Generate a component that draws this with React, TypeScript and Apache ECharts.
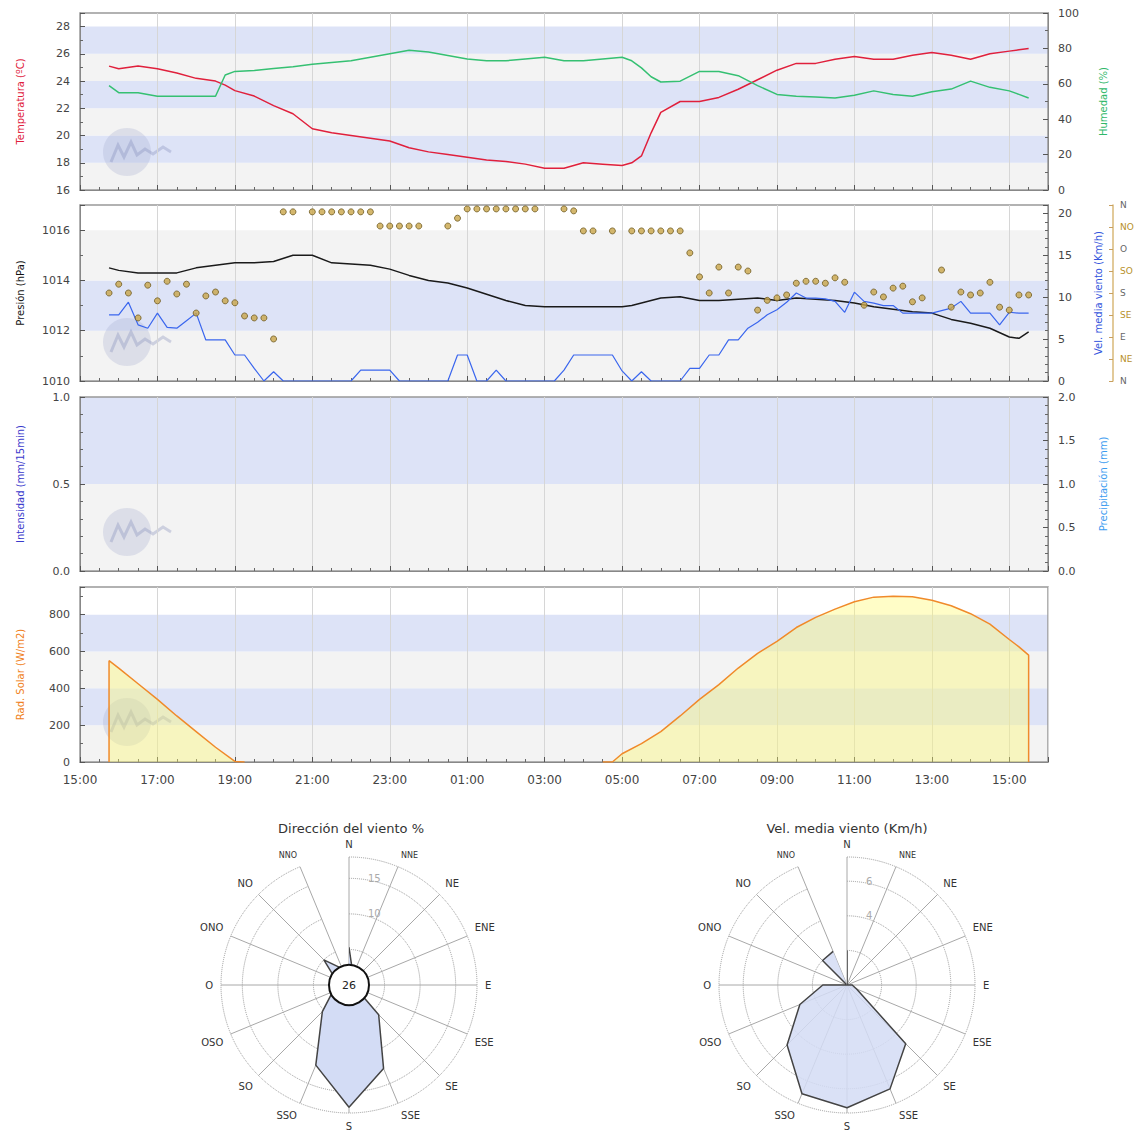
import React, { useEffect, useRef } from "react";
import * as echarts from "echarts";

// ---------- DATA ----------
// time stamps (HH:MM) from 15:45 on day 1 to 15:30 on day 2
const lineTimes = [
  "15:45", "16:00", "16:30", "17:00", "17:30", "18:00", "18:30", "18:45", "19:00", "19:30",
  "20:00", "20:30", "21:00", "21:30", "22:00", "22:30", "23:00", "23:30", "00:00", "00:30",
  "01:00", "01:30", "02:00", "02:30", "03:00", "03:30", "04:00", "04:30", "05:00", "05:15",
  "05:30", "05:45", "06:00", "06:30", "07:00", "07:30", "08:00", "08:30", "09:00", "09:30",
  "10:00", "10:30", "11:00", "11:30", "12:00", "12:30", "13:00", "13:30", "14:00", "14:30",
  "15:00", "15:15", "15:30",
];
const temperature = [
  25.1, 24.9, 25.1, 24.9, 24.6, 24.2, 24.0, 23.7, 23.3, 22.9,
  22.2, 21.6, 20.5, 20.2, 20.0, 19.8, 19.6, 19.1, 18.8, 18.6,
  18.4, 18.2, 18.1, 17.9, 17.6, 17.6, 18.0, 17.9, 17.8, 18.0,
  18.5, 20.2, 21.7, 22.5, 22.5, 22.8, 23.4, 24.1, 24.8, 25.3,
  25.3, 25.6, 25.8, 25.6, 25.6, 25.9, 26.1, 25.9, 25.6, 26.0,
  26.2, 26.3, 26.4,
];
const humidity = [
  59, 55, 55, 53, 53, 53, 53, 65, 67, 67.5,
  68.6, 69.7, 71, 72, 73, 75, 77, 79, 78, 76,
  74, 73, 73, 74, 75, 73, 73, 74, 75, 73,
  69, 64, 61, 61.5, 67, 67, 64.6, 59, 54, 53,
  52.5, 52, 53.5, 56, 54, 53, 55.5, 57, 61.5, 58,
  56, 54, 52,
];
const pressure = [
  1014.5, 1014.4, 1014.3, 1014.3, 1014.3, 1014.5, 1014.6, 1014.65, 1014.7, 1014.7,
  1014.75, 1015.0, 1015.0, 1014.7, 1014.65, 1014.6, 1014.45, 1014.2, 1014.0, 1013.9,
  1013.7, 1013.45, 1013.2, 1013.0, 1012.95, 1012.95, 1012.95, 1012.95, 1012.95, 1013.0,
  1013.1, 1013.2, 1013.3, 1013.35, 1013.2, 1013.2, 1013.25, 1013.3, 1013.2, 1013.3,
  1013.25, 1013.2, 1013.1, 1012.95, 1012.85, 1012.75, 1012.7, 1012.45, 1012.3, 1012.1,
  1011.75, 1011.7, 1011.95,
];

// wind records every 15 minutes starting 15:45
const windStartMinutes = 45;
const windStepMinutes = 15;
const windSpeed = [
  7.9, 7.9, 9.4, 6.7, 6.3, 8.1, 6.4, 6.3, 7.2, 8.1,
  4.9, 4.9, 4.9, 3.1, 3.1, 1.5, 0, 1.1, 0, 0,
  0, 0, 0, 0, 0, 0, 1.3, 1.3, 1.3, 1.3,
  0, 0, 0, 0, 0, 0, 3.1, 3.1, 0, 0,
  1.3, 0, 0, 0, 0, 0, 0, 1.3, 3.1, 3.1,
  3.1, 3.1, 3.1, 1.2, 0, 1.1, 0, 0, 0, 0,
  1.5, 1.5, 3.1, 3.1, 4.9, 4.9, 6.3, 7.0, 7.9, 8.5,
  9.4, 10.5, 9.9, 9.9, 9.8, 9.5, 8.2, 10.6, 9.5, 9.3,
  9.0, 9.0, 8.1, 8.1, 8.1, 8.1, 8.4, 8.7, 9.5, 8.1,
  8.1, 8.1, 6.7, 8.2, 8.1, 8.1,
];
const windDir = [
  180, 198, 180, 129, 196, 164, 204, 178, 198, 139,
  174, 182, 164, 160, 133, 129, 129, 86, 346, 346,
  null, 346, 346, 346, 346, 346, 346, 346, 317, 317,
  317, 317, 317, null, null, 317, 333, 352, 352, 352,
  352, 352, 352, 352, 352, null, null, 352, 348, 307,
  307, null, 307, null, 307, 307, 307, 307, 307, 307,
  262, 213, 180, 233, 180, 233, 225, 145, 165, 170,
  176, 200, 204, 204, 200, 211, 202, null, 155, 182,
  172, 190, 194, 162, 170, null, 227, 151, 182, 176,
  180, 202, 151, 145, 176, 176,
];

const radTimes = [
  "15:45", "15:45", "16:00", "16:30", "17:00", "17:30", "18:00", "18:30", "19:00", "19:15",
  "19:30", "04:30", "04:45", "05:00", "05:30", "06:00", "06:30", "07:00", "07:30", "08:00",
  "08:30", "09:00", "09:30", "10:00", "10:30", "11:00", "11:30", "12:00", "12:30", "13:00",
  "13:30", "14:00", "14:30", "15:00", "15:15", "15:30", "15:30",
];
const radiation = [
  0, 550, 510, 425, 340, 250, 165, 80, 3, 0,
  null, 0, 0, 45, 100, 165, 250, 340, 420, 510,
  590, 655, 730, 785, 830, 870, 895, 900, 897, 878,
  848, 805, 748, 665, 625, 580, 0,
];

const roseDirs = ["N", "NNE", "NE", "ENE", "E", "ESE", "SE", "SSE", "S", "SSO", "SO", "OSO", "O", "ONO", "NO", "NNO"];
const dirPercent = [5.3, 1.5, 1.0, 0.5, 0.5, 1.0, 5.9, 12.7, 17.2, 12.2, 5.3, 2.5, 1.5, 2.0, 5.0, 2.5];
const calmPercent = 26;
const roseSpeed = [2.0, 0, 0, 0, 0.3, 0.6, 4.8, 6.5, 7.1, 6.8, 4.9, 2.95, 1.4, 0, 2.0, 2.1];

const dirAxisLabels = ["N", "NE", "E", "SE", "S", "SO", "O", "NO", "N"];

// ---------- HELPERS ----------
const toMinutes = (times: string[]) => {
  let prev = -Infinity;
  return times.map((t) => {
    const [h, m] = t.split(":").map(Number);
    let v = h * 60 + m - 900;
    if (v < 0) v += 1440;
    while (v < prev) v += 1440;
    prev = v;
    return v;
  });
};
const pair = (xs: number[], ys: (number | null)[]) => xs.map((x, i) => [x, ys[i] === null ? "-" : ys[i]]);
const pad = (n: number) => (n < 10 ? "0" + n : "" + n);
const fmtTime = (v: number) => {
  const m = (900 + v) % 1440;
  return pad(Math.floor(m / 60)) + ":" + pad(m % 60);
};

const LIGHT = "#f3f3f3";
const BLUE = "#dde3f7";
const FONT = "DejaVu Sans";

const GRIDS = [
  { top: 13, height: 177 },
  { top: 205, height: 176 },
  { top: 397, height: 174 },
  { top: 587, height: 175 },
];
const X_MIN = 0;
const X_MAX = 1500;

const bands: number[][][] = [
  [[16, 18], [18, 20], [20, 22], [22, 24], [24, 26], [26, 28]],
  [[1010, 1012], [1012, 1014], [1014, 1016]],
  [[0, 0.5], [0.5, 1.0]],
  [[0, 200], [200, 400], [400, 600], [600, 800]],
];
const leftAxisIndex = [0, 2, 5, 7];

export default function App() {
  const ref = useRef<HTMLDivElement>(null);
  useEffect(() => {
    document.body.style.margin = "0";
    const chart = echarts.init(ref.current!, null, { renderer: "svg" });

    const lineX = toMinutes(lineTimes);
    const windX = windSpeed.map((_, i) => windStartMinutes + windStepMinutes * i);
    const radX = toMinutes(radTimes);

    const tick = { inside: true, length: 5, lineStyle: { color: "#555" } };
    const minor = (n: number) => ({ show: true, splitNumber: n, length: 3, lineStyle: { color: "#666" } });
    const axLine = { show: true, lineStyle: { color: "#888" } };
    const plain = (v: number) => String(v);
    const lab = { color: "#444", fontSize: 11, fontFamily: FONT, margin: 10, formatter: plain };
    const nameStyle = (c: string) => ({ color: c, fontSize: 10, fontFamily: FONT });

    const yAxis: any[] = [
      {
        gridIndex: 0, type: "value", position: "left", min: 16, max: 29, interval: 2,
        axisLine: axLine, axisTick: tick, minorTick: minor(2), splitLine: { show: false },
        axisLabel: { ...lab, showMaxLabel: false },
        name: "Temperatura (ºC)", nameLocation: "middle", nameRotate: 90, nameGap: 55, nameTextStyle: nameStyle("#e0203c"),
      },
      {
        gridIndex: 0, type: "value", position: "right", min: 0, max: 100, interval: 20,
        axisLine: axLine, axisTick: tick, minorTick: minor(2), splitLine: { show: false },
        axisLabel: lab,
        name: "Humedad (%)", nameLocation: "middle", nameRotate: 90, nameGap: 50, nameTextStyle: nameStyle("#2fb86a"),
      },
      {
        gridIndex: 1, type: "value", position: "left", min: 1010, max: 1017, interval: 2,
        axisLine: axLine, axisTick: tick, minorTick: minor(2), splitLine: { show: false },
        axisLabel: { ...lab, showMaxLabel: false },
        name: "Presión (hPa)", nameLocation: "middle", nameRotate: 90, nameGap: 55, nameTextStyle: nameStyle("#111"),
      },
      {
        gridIndex: 1, type: "value", position: "right", min: 0, max: 21, interval: 5,
        axisLine: axLine, axisTick: tick, minorTick: minor(5), splitLine: { show: false },
        axisLabel: { ...lab, showMaxLabel: false },
        name: "Vel. media viento (Km/h)", nameLocation: "middle", nameRotate: 90, nameGap: 45, nameTextStyle: nameStyle("#3355dd"),
      },
      {
        gridIndex: 1, type: "value", position: "right", offset: 65, min: 0, max: 360, interval: 45,
        axisLine: { show: true, lineStyle: { color: "#d8b878", width: 1.5 } },
        axisTick: { inside: true, length: 4, lineStyle: { color: "#c8a060" } },
        splitLine: { show: false },
        axisLabel: {
          margin: 7,
          formatter: (v: number) => {
            const i = Math.round(v / 45);
            return i % 2 === 0 ? "{c|" + dirAxisLabels[i] + "}" : "{i|" + dirAxisLabels[i] + "}";
          },
          rich: {
            c: { color: "#666", fontSize: 9, fontFamily: FONT },
            i: { color: "#b8902a", fontSize: 9, fontFamily: FONT },
          },
        },
      },
      {
        gridIndex: 2, type: "value", position: "left", min: 0, max: 1, interval: 0.5,
        axisLine: axLine, axisTick: tick, minorTick: minor(5), splitLine: { show: false },
        axisLabel: { ...lab, formatter: (v: number) => v.toFixed(1) },
        name: "Intensidad (mm/15min)", nameLocation: "middle", nameRotate: 90, nameGap: 55, nameTextStyle: nameStyle("#3a3acc"),
      },
      {
        gridIndex: 2, type: "value", position: "right", min: 0, max: 2, interval: 0.5,
        axisLine: axLine, axisTick: tick, minorTick: minor(5), splitLine: { show: false },
        axisLabel: { ...lab, formatter: (v: number) => v.toFixed(1) },
        name: "Precipitación (mm)", nameLocation: "middle", nameRotate: 90, nameGap: 50, nameTextStyle: nameStyle("#3c9cf0"),
      },
      {
        gridIndex: 3, type: "value", position: "left", min: 0, max: 950, interval: 200,
        axisLine: axLine, axisTick: tick, minorTick: minor(2), splitLine: { show: false },
        axisLabel: { ...lab, showMaxLabel: false },
        name: "Rad. Solar (W/m2)", nameLocation: "middle", nameRotate: 90, nameGap: 55, nameTextStyle: nameStyle("#f08020"),
      },
    ];

    const xAxis = GRIDS.map((_, i) => ({
      type: "value", gridIndex: i, min: X_MIN, max: X_MAX, interval: 120,
      axisLine: axLine, axisTick: tick, minorTick: minor(4),
      splitLine: { show: true, lineStyle: { color: "#d6d6d6" } },
      axisLabel: { show: i === 3, formatter: fmtTime, showMaxLabel: false, fontSize: 12, color: "#444", fontFamily: FONT, margin: 12 },
    }));

    const bandSeries = bands.map((b, gi) => ({
      type: "custom", xAxisIndex: gi, yAxisIndex: leftAxisIndex[gi], z: -1, silent: true,
      data: b.map((r, i) => [r[0], r[1], i]),
      renderItem: (params: any, api: any) => {
        const y0 = api.value(0);
        const y1 = api.value(1);
        const p0 = api.coord([X_MIN, y0]);
        const p1 = api.coord([X_MAX, y1]);
        return {
          type: "rect",
          shape: { x: p0[0], y: p1[1], width: p1[0] - p0[0], height: p0[1] - p1[1] },
          style: { fill: api.value(2) % 2 === 0 ? LIGHT : BLUE },
        };
      },
    }));

    const logo = (cy: number) => ({
      type: "group", x: 127, y: cy, z: 1, silent: true,
      children: [
        { type: "circle", shape: { cx: 0, cy: 0, r: 24 }, style: { fill: "rgba(160,170,205,0.28)" } },
        {
          type: "polyline",
          shape: { points: [[-16, 10], [-9, -7], [-3, 5], [4, -10], [10, 3], [18, -3], [26, 2], [36, -5], [44, 0]] },
          style: { stroke: "rgba(120,130,180,0.3)", lineWidth: 3, fill: null },
        },
      ],
    });

    const radLabel = (show: (v: number) => boolean) => ({
      color: "#aaa", fontSize: 10, margin: -19, align: "left",
      formatter: (v: number) => (show(v) ? String(v) : ""),
    });

    const option: any = {
      animation: false,
      backgroundColor: "#fff",
      textStyle: { fontFamily: FONT },
      grid: GRIDS.map((g) => ({
        left: 80, width: 968, top: g.top, height: g.height, show: true,
        borderColor: "#999", borderWidth: 1.5, backgroundColor: "transparent",
      })),
      xAxis,
      yAxis,
      polar: [
        { center: [349, 985], radius: 128 },
        { center: [847, 985], radius: 128 },
      ],
      angleAxis: [0, 1].map((pi) => ({
        polarIndex: pi, type: "category", data: roseDirs, startAngle: 90, clockwise: true, boundaryGap: false,
        axisLine: { show: false }, axisTick: { show: false },
        splitLine: { show: true, lineStyle: { color: "#a8a8a8", width: 1 } },
        axisLabel: {
          margin: 8, color: "#333", fontSize: 10, fontFamily: FONT,
          formatter: (v: string) => (v === "NNE" || v === "NNO" ? "{s|" + v + "}" : v),
          rich: { s: { fontSize: 8, color: "#333", fontFamily: FONT } },
        },
      })),
      radiusAxis: [
        {
          polarIndex: 0, min: 0, max: 18, interval: 5,
          axisLine: { show: false }, axisTick: { show: false },
          axisLabel: radLabel((v) => v >= 10 && v < 18),
          splitLine: { show: true, lineStyle: { color: "#999", type: "dotted" } },
        },
        {
          polarIndex: 1, min: 0, max: 7.4, interval: 2,
          axisLine: { show: false }, axisTick: { show: false },
          axisLabel: radLabel((v) => v >= 4 && v < 7),
          splitLine: { show: true, lineStyle: { color: "#999", type: "dotted" } },
        },
      ],
      graphic: [
        logo(152), logo(342), logo(532), logo(722),
        {
          type: "text", x: 351, y: 828, z: 10,
          style: { text: "Dirección del viento %", font: "13px DejaVu Sans", fill: "#333", textAlign: "center", textVerticalAlign: "middle" },
        },
        {
          type: "text", x: 847, y: 828, z: 10,
          style: { text: "Vel. media viento (Km/h)", font: "13px DejaVu Sans", fill: "#333", textAlign: "center", textVerticalAlign: "middle" },
        },
        {
          type: "circle", z: 100, shape: { cx: 349, cy: 985, r: 20 },
          style: { fill: "#fff", stroke: "#111", lineWidth: 2 },
        },
        {
          type: "text", x: 349, y: 985, z: 101,
          style: { text: String(calmPercent), font: "11px DejaVu Sans", fill: "#222", textAlign: "center", textVerticalAlign: "middle" },
        },
      ],
      series: [
        ...bandSeries,
        {
          type: "line", xAxisIndex: 0, yAxisIndex: 0, data: pair(lineX, temperature),
          symbol: "none", lineStyle: { color: "#e0203c", width: 1.5 }, itemStyle: { color: "#e0203c" },
        },
        {
          type: "line", xAxisIndex: 0, yAxisIndex: 1, data: pair(lineX, humidity),
          symbol: "none", lineStyle: { color: "#35c072", width: 1.5 }, itemStyle: { color: "#35c072" },
        },
        {
          type: "line", xAxisIndex: 1, yAxisIndex: 2, data: pair(lineX, pressure),
          symbol: "none", lineStyle: { color: "#1a1a1a", width: 1.5 }, itemStyle: { color: "#1a1a1a" },
        },
        {
          type: "line", xAxisIndex: 1, yAxisIndex: 3, data: pair(windX, windSpeed),
          symbol: "none", lineStyle: { color: "#3a66ee", width: 1.2 }, itemStyle: { color: "#3a66ee" },
        },
        {
          type: "scatter", xAxisIndex: 1, yAxisIndex: 4, data: pair(windX, windDir),
          symbol: "circle", symbolSize: 6, z: 3,
          itemStyle: { color: "#c9a548", borderColor: "#6e5a20", borderWidth: 1 },
        },
        {
          type: "line", xAxisIndex: 3, yAxisIndex: 7, data: pair(radX, radiation),
          symbol: "none", lineStyle: { color: "#f08a2a", width: 1.5 }, itemStyle: { color: "#f08a2a" },
          areaStyle: { color: "rgba(255,250,110,0.55)" },
        },
        {
          type: "line", coordinateSystem: "polar", polarIndex: 0,
          data: [...roseDirs.map((_, i) => [dirPercent[i], i]), [dirPercent[0], 0]],
          symbol: "none", lineStyle: { color: "#444", width: 1.5 }, itemStyle: { color: "#444" },
          areaStyle: { color: "#d3dcf5", opacity: 1 }, z: 5,
        },
        {
          type: "line", coordinateSystem: "polar", polarIndex: 1,
          data: [...roseDirs.map((_, i) => [roseSpeed[i], i]), [roseSpeed[0], 0]],
          symbol: "none", lineStyle: { color: "#444", width: 1.5 }, itemStyle: { color: "#444" },
          areaStyle: { color: "#d3dcf5", opacity: 0.85 }, z: 5,
        },
      ],
    };

    chart.setOption(option);
    return () => chart.dispose();
  }, []);
  return <div ref={ref} style={{ width: 1144, height: 1133 }} />;
}
